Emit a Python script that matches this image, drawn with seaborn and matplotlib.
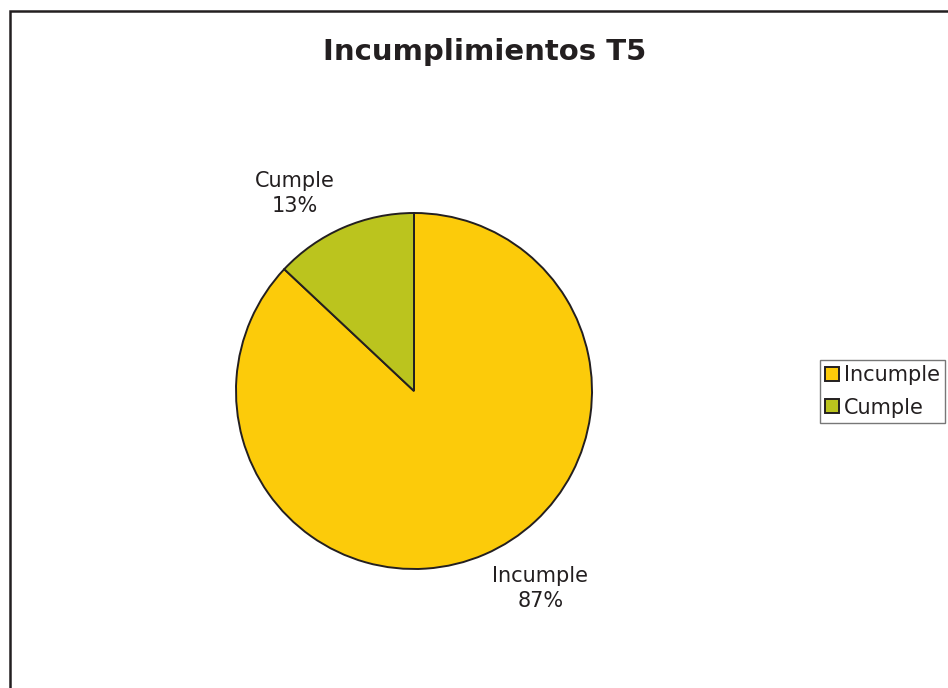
import seaborn as sns
import matplotlib.pyplot as plt
from matplotlib.patches import Patch, Rectangle

# chart data
categories = ['Incumple', 'Cumple']
values = [87, 13]
colors = ['#FCCB0A', '#BBC41E']
title = 'Incumplimientos T5'

sns.set_theme(style="white")
plt.rcParams['font.family'] = ['DejaVu Sans']

W, H = 948, 688
fig = plt.figure(figsize=(W / 100, H / 100), dpi=100)
fig.patch.set_facecolor('white')

# pie axes: centre (414, 391) px, radius 178 px
cx, cy, r = 414, H - 391, 178
ax = fig.add_axes([(cx - r) / W, (cy - r) / H, 2 * r / W, 2 * r / H])
wedges, _ = ax.pie(values, colors=colors, startangle=90, counterclock=False,
                   radius=1, wedgeprops=dict(edgecolor='#231F20', linewidth=1.4))
ax.set_xlim(-1, 1)
ax.set_ylim(-1, 1)
ax.set_aspect('equal')
ax.axis('off')

# data labels
label_pos = {'Incumple': (0.71, -1.11), 'Cumple': (-0.67, 1.11)}
for cat, val in zip(categories, values):
    x, y = label_pos[cat]
    ax.text(x, y, f'{cat}\n{val}%', ha='center', va='center', fontsize=15,
            color='#231F20', linespacing=1.35, clip_on=False)

fig.text(485 / W, 1 - 52 / H, title, ha='center', va='center',
         fontsize=21, fontweight='bold', color='#231F20')

handles = [Patch(facecolor=c, edgecolor='#231F20', linewidth=1.4) for c in colors]
leg = fig.legend(handles, categories, loc='upper left',
                 bbox_to_anchor=(820 / W, 1 - 360 / H), fontsize=15,
                 frameon=True, fancybox=False, handlelength=0.65, handleheight=0.65,
                 handletextpad=0.25, borderpad=0.25, labelspacing=0.6,
                 borderaxespad=0, edgecolor='#555555')
leg.get_frame().set_linewidth(1.0)
for t in leg.get_texts():
    t.set_color('#231F20')

# outer chart border
fig.patches.append(Rectangle((10 / W, -0.05), 1.1, 1 - 11 / H + 0.05,
                             transform=fig.transFigure, fill=False,
                             edgecolor='#231F20', linewidth=1.8, clip_on=False))

fig.savefig('out.png', dpi=100)
